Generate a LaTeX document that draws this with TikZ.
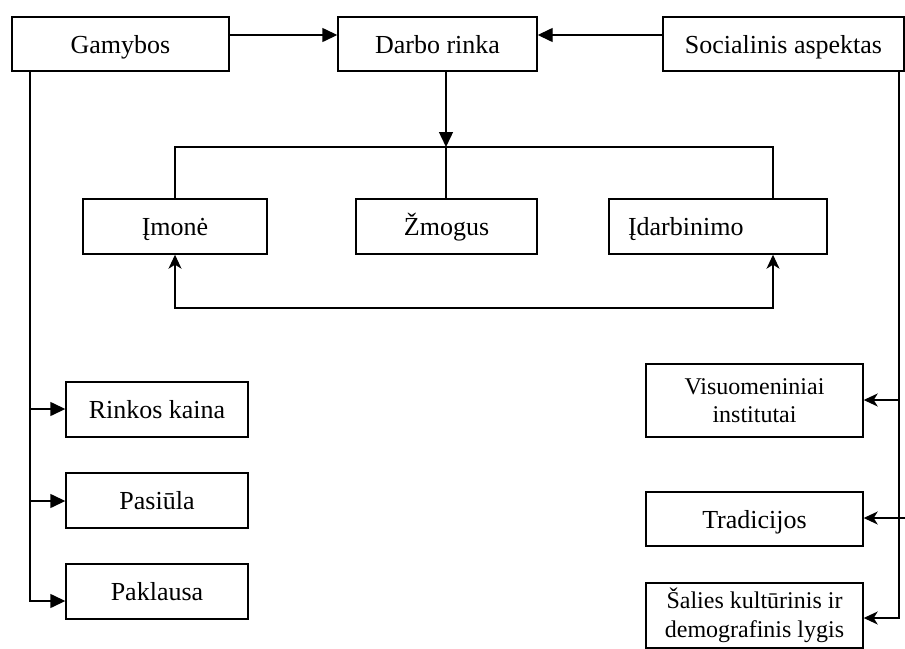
\documentclass[tikz,border=0pt]{standalone}
\usepackage{fontspec}
\setmainfont{Liberation Serif}
\usetikzlibrary{arrows.meta}
\begin{document}
\begin{tikzpicture}[x=1pt,y=-1pt,
  box/.style={draw, line width=1.4pt, inner sep=0pt, font=\fontsize{26}{28}\selectfont, text height=18pt, text depth=0pt},
  mbox/.style={draw, line width=1.4pt, inner sep=0pt, align=center, font=\fontsize{24}{28.5}\selectfont},
  ln/.style={line width=1.4pt},
  tri/.style={-{Triangle[length=15pt,width=14pt]}},
  stl/.style={-{Stealth[length=14pt,width=13pt,inset=4pt]}}]
\useasboundingbox (0,0) rectangle (905,648);

% top row
\node[box, minimum width=217pt, minimum height=54pt] (gam) at (120.5,44) {Gamybos};
\node[box, minimum width=199pt, minimum height=54pt] (dr) at (437.5,44) {Darbo rinka};
\node[box, minimum width=241pt, minimum height=54pt] (soc) at (783.5,44) {Socialinis aspektas};

% middle row
\node[box, minimum width=184pt, minimum height=55pt] (im) at (175,226.5) {Įmonė};
\node[box, minimum width=181pt, minimum height=55pt] (zm) at (446.5,226.5) {Žmogus};
\node[box, minimum width=218pt, minimum height=55pt, text width=180pt, align=left, inner xsep=19pt] (id) at (718,226.5) {Įdarbinimo};

% left column
\node[box, minimum width=182pt, minimum height=55pt] (rk) at (157,409.5) {Rinkos kaina};
\node[box, minimum width=182pt, minimum height=55pt] (ps) at (157,500.5) {Pasiūla};
\node[box, minimum width=182pt, minimum height=55pt] (pk) at (157,591.5) {Paklausa};

% right column
\node[mbox, minimum width=217pt, minimum height=73pt] (vi) at (754.5,400.5) {Visuomeniniai\\institutai};
\node[box, minimum width=217pt, minimum height=54pt] (tr) at (754.5,519) {Tradicijos};
\node[mbox, minimum width=217pt, minimum height=65pt] (sa) at (754.5,615.5) {Šalies kultūrinis ir\\demografinis lygis};

% helper coordinates
\coordinate (ty) at (0,35);
\coordinate (dx) at (446,147);
\coordinate (rx) at (773,0);
\coordinate (by) at (0,308);
\coordinate (rkA) at (30,409);
\coordinate (psA) at (30,501);
\coordinate (pkA) at (30,601);
\coordinate (viA) at (899,400);
\coordinate (saA) at (899,618);
\coordinate (trE) at (905,518);

% top arrows
\draw[ln,tri] (gam.east |- ty) -- (dr.west |- ty);
\draw[ln,tri] (soc.west |- ty) -- (dr.east |- ty);
\draw[ln,tri] (dr.south -| dx) -- (dx);

% branching line
\draw[ln] (im.north) -- (im.north |- dx) -- (rx |- dx) -- (id.north -| rx);
\draw[ln] (zm.north -| dx) -- (dx);

% bottom loop
\draw[ln,{Stealth[length=14pt,width=13pt,inset=4pt]}-{Stealth[length=14pt,width=13pt,inset=4pt]}]
  (im.south) -- (im.south |- by) -- (rx |- by) -- (id.south -| rx);

% left side
\draw[ln,tri] (gam.south -| pkA) -- (pkA) -- (pk.west |- pkA);
\draw[ln,tri] (rkA) -- (rk.west |- rkA);
\draw[ln,tri] (psA) -- (ps.west |- psA);

% right side
\draw[ln,stl] (soc.south -| saA) -- (saA) -- (sa.east |- saA);
\draw[ln,stl] (viA) -- (vi.east |- viA);
\draw[ln,stl] (trE) -- (tr.east |- trE);
\end{tikzpicture}
\end{document}
